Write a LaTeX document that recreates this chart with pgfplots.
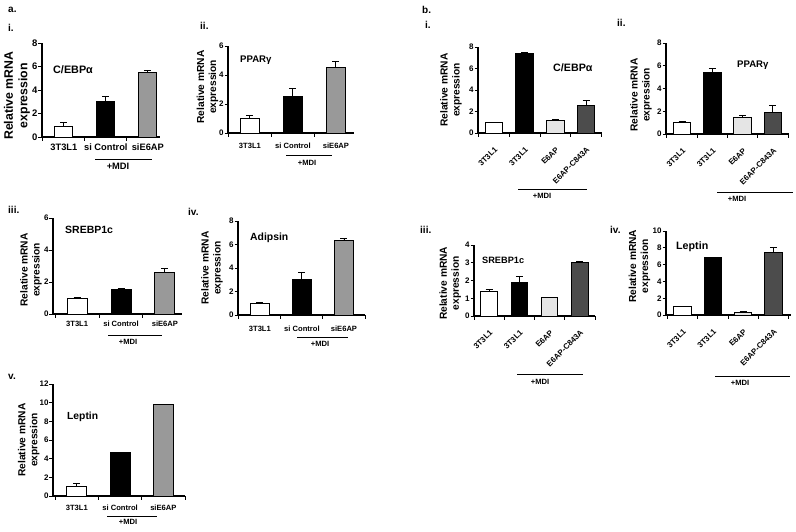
\documentclass[border=0pt]{standalone}
\usepackage{fontspec}
\setmainfont{Liberation Sans}
\usepackage{pgfplots}
\pgfplotsset{compat=1.18}
\newcommand\fz[2]{\bfseries\fontsize{#1}{#2}\selectfont}
\pgfplotsset{
 panel/.style={scale only axis, anchor=south west, axis lines*=left,
   axis line style={line width=1.1pt,black}, ymin=0, clip=false,
   tick align=outside, major tick length=3.5pt,
   every tick/.style={black,line width=0.9pt},
   /pgf/number format/assume math mode=true,
   ylabel={Relative mRNA\\expression},
   yticklabel style={font=\fz{8}{8}, inner sep=0.8pt},
   ylabel style={align=center, anchor=south, inner sep=0pt, font=\fz{10.2}{12}},
   xticklabels={},
   extra x tick style={xtick style={draw=none}, xticklabel style={font=\fz{7.6}{8}}},
 },
 three/.style={xtick={-0.5,0.5,1.5,2.5}, extra x ticks={0,1,2}, extra x tick labels={3T3L1,si Control,siE6AP}},
 four/.style={xtick={-0.5,0.5,1.5,2.5,3.5}, extra x ticks={0,1,2,3}, extra x tick labels={3T3L1,3T3L1,E6AP,E6AP-C843A},
   xticklabel shift=5pt,
   extra x tick style={xticklabel style={rotate=45, anchor=north east, font=\fz{7.9}{8}}}},
 bb/.style={ybar, bar shift=0pt, draw=black, line width=1pt, fill=#1},
 eb/.style={error bars/.cd, y dir=plus, y explicit, error bar style={line width=0.9pt,black}, error mark options={rotate=90,line width=0.9pt,black,mark size=3.5pt}, /pgfplots/.cd},
}
\begin{document}
\begin{tikzpicture}
\path[use as bounding box] (0pt,0pt) rectangle (796pt,-531pt);
% ---------- a.i
\begin{axis}[panel, three, at={(42pt,-137pt)}, width=118pt, height=94pt, xmin=-0.52, xmax=2.29, ymax=8, ytick={0,2,4,6,8}, bar width=18pt,
 yticklabel style={font=\fz{9.5}{9.5}},
 ylabel style={at={(axis description cs:-0.1,0.44)}, font=\fz{12.3}{14.5}},
 extra x tick style={xticklabel style={font=\fz{9.3}{10}}}]
\addplot[bb=white, eb] coordinates {(0,0.9) +- (0,0.3)};
\addplot[bb=black, eb] coordinates {(1,3.0) +- (0,0.45)};
\addplot[bb=black!40, eb] coordinates {(2,5.5) +- (0,0.15)};
\end{axis}
% ---------- a.ii
\begin{axis}[panel, three, at={(228pt,-133pt)}, width=126pt, height=87pt, xmin=-0.51, xmax=2.42, ymax=6, ytick={0,2,4,6}, bar width=19pt,
 ylabel style={at={(axis description cs:-0.075,0.53)}},
 extra x tick style={xticklabel style={yshift=-3pt}}]
\addplot[bb=white, eb] coordinates {(0,0.97) +- (0,0.25)};
\addplot[bb=black, eb] coordinates {(1,2.55) +- (0,0.55)};
\addplot[bb=black!40, eb] coordinates {(2,4.55) +- (0,0.4)};
\end{axis}
% ---------- a.iii
\begin{axis}[panel, three, at={(53pt,-314pt)}, width=129pt, height=96pt, xmin=-0.55, xmax=2.39, ymax=6, ytick={0,2,4,6}, bar width=20pt,
 ylabel style={at={(axis description cs:-0.085,0.46)}}]
\addplot[bb=white, eb] coordinates {(0,1.0) +- (0,0.03)};
\addplot[bb=black, eb] coordinates {(1,1.55) +- (0,0.07)};
\addplot[bb=black!40, eb] coordinates {(2,2.6) +- (0,0.25)};
\end{axis}
% ---------- a.iv
\begin{axis}[panel, three, at={(238pt,-315pt)}, width=127pt, height=94pt, xmin=-0.52, xmax=2.5, ymax=8, ytick={0,2,4,6,8}, bar width=19pt,
 ylabel style={at={(axis description cs:-0.118,0.5)}},
 extra x tick style={xticklabel style={yshift=-4pt}}]
\addplot[bb=white, eb] coordinates {(0,1.0) +- (0,0.05)};
\addplot[bb=black, eb] coordinates {(1,3.05) +- (0,0.55)};
\addplot[bb=black!40, eb] coordinates {(2,6.3) +- (0,0.2)};
\end{axis}
% ---------- a.v
\begin{axis}[panel, three, at={(53pt,-496pt)}, width=132pt, height=112pt, xmin=-0.55, xmax=2.5, ymax=12, ytick={0,2,4,6,8,10,12}, bar width=20pt,
 ylabel style={at={(axis description cs:-0.1,0.5)}},
 extra x tick style={xticklabel style={yshift=-2pt}}]
\addplot[bb=white, eb] coordinates {(0,1.0) +- (0,0.35)};
\addplot[bb=black] coordinates {(1,4.7)};
\addplot[bb=black!40] coordinates {(2,9.8)};
\end{axis}
% ---------- b.i
\begin{axis}[panel, four, at={(478pt,-133pt)}, width=124pt, height=86pt, xmin=-0.52, xmax=3.52, ymax=8, ytick={0,2,4,6,8}, bar width=17.5pt,
 ylabel style={at={(axis description cs:-0.129,0.5)}}]
\addplot[bb=white] coordinates {(0,1.0)};
\addplot[bb=black, eb] coordinates {(1,7.35) +- (0,0.1)};
\addplot[bb=black!10, eb] coordinates {(2,1.15) +- (0,0.07)};
\addplot[bb=black!70, eb] coordinates {(3,2.55) +- (0,0.45)};
\end{axis}
% ---------- b.ii
\begin{axis}[panel, four, at={(666pt,-134pt)}, width=123pt, height=91pt, xmin=-0.53, xmax=3.53, ymax=8, ytick={0,2,4,6,8}, bar width=17.5pt,
 ylabel style={at={(axis description cs:-0.114,0.43)}}]
\addplot[bb=white, eb] coordinates {(0,1.05) +- (0,0.05)};
\addplot[bb=black, eb] coordinates {(1,5.45) +- (0,0.3)};
\addplot[bb=black!10, eb] coordinates {(2,1.45) +- (0,0.2)};
\addplot[bb=black!70, eb] coordinates {(3,1.85) +- (0,0.65)};
\end{axis}
% ---------- b.iii
\begin{axis}[panel, four, at={(474pt,-316pt)}, width=121pt, height=71pt, xmin=-0.5, xmax=3.5, ymax=4, ytick={0,1,2,3,4}, bar width=16.5pt,
 ylabel style={at={(axis description cs:-0.105,0.46)}}]
\addplot[bb=white, eb] coordinates {(0,1.4) +- (0,0.07)};
\addplot[bb=black, eb] coordinates {(1,1.87) +- (0,0.38)};
\addplot[bb=black!10] coordinates {(2,1.07)};
\addplot[bb=black!70, eb] coordinates {(3,3.03) +- (0,0.05)};
\end{axis}
% ---------- b.iv
\begin{axis}[panel, four, at={(666pt,-315pt)}, width=125pt, height=84pt, xmin=-0.55, xmax=3.58, ymax=10, ytick={0,2,4,6,8,10}, bar width=17.5pt,
 ylabel style={at={(axis description cs:-0.125,0.58)}}]
\addplot[bb=white] coordinates {(0,1.05)};
\addplot[bb=black, eb] coordinates {(1,6.8) +- (0,0.1)};
\addplot[bb=black!10, eb] coordinates {(2,0.3) +- (0,0.15)};
\addplot[bb=black!70, eb] coordinates {(3,7.5) +- (0,0.55)};
\end{axis}
% ---------- gene names
\node[anchor=west, font=\fz{10.8}{12}, inner sep=0pt] at (53pt,-70pt) {C/EBPα};
\node[anchor=west, font=\fz{9.6}{10}, inner sep=0pt] at (240pt,-60pt) {PPARγ};
\node[anchor=west, font=\fz{10.5}{12}, inner sep=0pt] at (65pt,-230pt) {SREBP1c};
\node[anchor=west, font=\fz{10.4}{12}, inner sep=0pt] at (250pt,-238pt) {Adipsin};
\node[anchor=west, font=\fz{10.3}{12}, inner sep=0pt] at (67pt,-417pt) {Leptin};
\node[anchor=west, font=\fz{10.7}{12}, inner sep=0pt] at (553pt,-68pt) {C/EBPα};
\node[anchor=west, font=\fz{9.6}{10}, inner sep=0pt] at (737pt,-65pt) {PPARγ};
\node[anchor=west, font=\fz{9.2}{10}, inner sep=0pt] at (482pt,-260pt) {SREBP1c};
\node[anchor=west, font=\fz{10.7}{12}, inner sep=0pt] at (676pt,-247pt) {Leptin};
% ---------- panel labels
\begin{scope}[every node/.style={anchor=west, font=\fz{10}{12}, inner sep=0pt}]
\node at (8pt,-10pt) {a.};
\node at (8pt,-28pt) {i.};
\node at (200pt,-26pt) {ii.};
\node at (8pt,-210pt) {iii.};
\node at (188pt,-212pt) {iv.};
\node at (8pt,-377pt) {v.};
\node at (422pt,-10pt) {b.};
\node at (425pt,-25pt) {i.};
\node at (617pt,-23pt) {ii.};
\node at (420pt,-230pt) {iii.};
\node at (610pt,-230pt) {iv.};
\end{scope}
% ---------- +MDI brackets
\begin{scope}[line width=0.7pt]
\draw (95pt,-159pt) -- (152pt,-159pt);
\node[font=\fz{9.3}{10}, inner sep=0pt] at (118pt,-166pt) {+MDI};
\draw (286pt,-155pt) -- (332pt,-155pt);
\node[font=\fz{7.6}{8}, inner sep=0pt] at (307pt,-163pt) {+MDI};
\draw (108pt,-335pt) -- (162pt,-335pt);
\node[font=\fz{7.6}{8}, inner sep=0pt] at (128pt,-342pt) {+MDI};
\draw (297pt,-337pt) -- (348pt,-337pt);
\node[font=\fz{7.6}{8}, inner sep=0pt] at (320pt,-344pt) {+MDI};
\draw (107pt,-516pt) -- (157pt,-516pt);
\node[font=\fz{7.6}{8}, inner sep=0pt] at (128pt,-522pt) {+MDI};
\draw (518pt,-189pt) -- (587pt,-189pt);
\node[font=\fz{7.6}{8}, inner sep=0pt] at (542pt,-196pt) {+MDI};
\draw (717pt,-192pt) -- (793pt,-192pt);
\node[font=\fz{7.6}{8}, inner sep=0pt] at (737pt,-199pt) {+MDI};
\draw (517pt,-374pt) -- (583pt,-374pt);
\node[font=\fz{7.6}{8}, inner sep=0pt] at (540pt,-382pt) {+MDI};
\draw (715pt,-376pt) -- (790pt,-376pt);
\node[font=\fz{7.6}{8}, inner sep=0pt] at (740pt,-383pt) {+MDI};
\end{scope}
\end{tikzpicture}
\end{document}
